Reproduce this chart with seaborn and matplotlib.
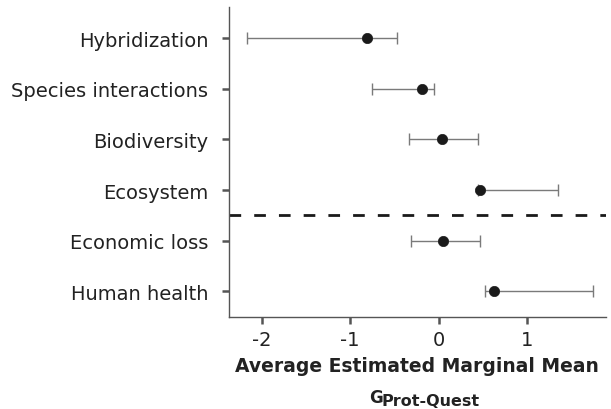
import matplotlib
matplotlib.use("Agg")
import matplotlib.pyplot as plt
import seaborn as sns
import pandas as pd

# Estimated marginal means with 95% intervals per attribute
attributes = ["Hybridization", "Species interactions", "Biodiversity",
              "Ecosystem", "Economic loss", "Human health"]
means = [-0.81, -0.19, 0.04, 0.47, 0.05, 0.63]
lower = [-2.17, -0.75, -0.33, 0.45, -0.31, 0.53]
upper = [-0.47, -0.05, 0.45, 1.35, 0.47, 1.75]
x_ticks = [-2, -1, 0, 1]

df = pd.DataFrame({"attribute": attributes, "mean": means,
                   "lower": lower, "upper": upper})
df["pos"] = range(len(df))

sns.set_theme(style="white")
plt.rcParams["font.family"] = ["DejaVu Sans"]

fig = plt.figure(figsize=(6.11, 4.10), dpi=100)
ax = fig.add_axes([0.375, 0.224, 0.616, 0.756])

ax.errorbar(df["mean"], df["pos"],
            xerr=[df["mean"] - df["lower"], df["upper"] - df["mean"]],
            fmt="none", ecolor="#7a7a7a", elinewidth=1.0, capsize=4,
            capthick=1.0, zorder=2)
sns.scatterplot(data=df, x="mean", y="pos", color="#1a1a1a", s=55,
                edgecolor="#1a1a1a", linewidth=0.5, zorder=3, ax=ax)

# separator between environmental and human-related attributes
ax.axhline(3.5, color="#1a1a1a", linewidth=2.0, linestyle=(0, (4.2, 4.7)),
           zorder=1)

ax.set_xlim(-2.37, 1.89)
ax.set_ylim(5.51, -0.61)
ax.set_yticks(df["pos"])
ax.set_yticklabels(df["attribute"], fontsize=14, color="#222222")
ax.set_xticks(x_ticks)
ax.set_xticklabels([str(t) for t in x_ticks], fontsize=14, color="#222222")

for side in ["top", "right"]:
    ax.spines[side].set_visible(False)
for side in ["left", "bottom"]:
    ax.spines[side].set_color("#555555")
    ax.spines[side].set_linewidth(1.0)

ax.tick_params(axis="y", which="major", left=True, length=5, width=1.8,
               color="#555555", pad=10)
ax.tick_params(axis="x", which="major", bottom=True, length=5, width=1.8,
               color="#555555", pad=4)

ax.set_xlabel("Average Estimated Marginal Mean", fontsize=13.5,
              fontweight="bold", color="#222222", labelpad=5)
ax.set_ylabel("")

fig.text(0.6045, 0.017, "G", fontsize=12, fontweight="bold",
         color="#222222", ha="left", va="baseline")
fig.text(0.625, 0.010, "Prot-Quest", fontsize=11.5, fontweight="bold",
         color="#222222", ha="left", va="baseline")

fig.savefig("out.png", dpi=100)
